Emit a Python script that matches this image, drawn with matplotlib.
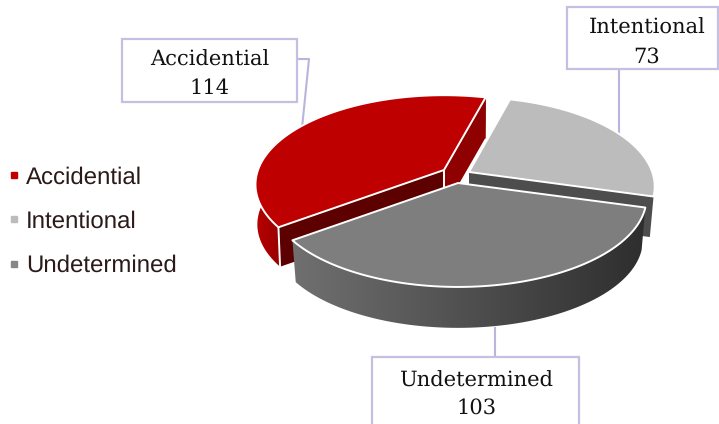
import numpy as np
import matplotlib
matplotlib.use("Agg")
import matplotlib.pyplot as plt
from matplotlib.patches import Polygon, Rectangle
from matplotlib.colors import LinearSegmentedColormap
from matplotlib.lines import Line2D

plt.rcParams["text.hinting"] = "no_hinting"
plt.rcParams["text.hinting_factor"] = 1

categories = ["Accidential", "Intentional", "Undetermined"]
values = [114, 73, 103]
top_colors = ["#bf0000", "#bcbcbc", "#7e7e7e"]
legend_colors = ["#c00000", "#bcbcbc", "#868686"]

# layout of the tilted pie, in pixels
apex = {"Accidential": (444, 170), "Intentional": (469, 172), "Undetermined": (458, 183)}
xscale = {"Accidential": 1.0, "Intentional": 0.985, "Undetermined": 1.0}
drop = {"Accidential": 40.0, "Intentional": 41.0, "Undetermined": 43.0}
shrink = {"Accidential": 0.99, "Intentional": 0.98, "Undetermined": 0.98}
K, KB, PERSP = 186.0, 87.0, 0.163
START = 216.5

W, H = 719, 424
fig = plt.figure(figsize=(W / 100, H / 100), dpi=100)
ax = fig.add_axes([0, 0, 1, 1])
ax.axis("off")


def proj(t_deg, name, lower=False):
    c = apex[name]
    t = np.radians(t_deg)
    den = 1 + PERSP * np.sin(t)
    s = shrink[name] if lower else 1.0
    d = drop[name] if lower else 0.0
    return np.column_stack([c[0] + s * xscale[name] * K * np.cos(t) / den,
                            c[1] - s * KB * np.sin(t) / den + d])


def gradient_fill(pts, c0, c1, z):
    cmap = LinearSegmentedColormap.from_list("g", [c0, c1])
    x0, x1 = pts[:, 0].min(), pts[:, 0].max()
    y0, y1 = pts[:, 1].min(), pts[:, 1].max()
    im = ax.imshow(np.linspace(0, 1, 256)[None, :], cmap=cmap, aspect="auto",
                   extent=[x0, x1, y1, y0], zorder=z)
    patch = Polygon(pts, closed=True, transform=ax.transData, fill=False, edgecolor="none")
    ax.add_patch(patch)
    im.set_clip_path(patch)


frac = np.array(values) / np.sum(values) * 360
edges = START - np.concatenate([[0], np.cumsum(frac)])
ang = {n: (edges[i], edges[i + 1]) for i, n in enumerate(categories)}

WHITE = dict(color="white", lw=1.4, solid_capstyle="round", solid_joinstyle="round")


def cut_face(name, t, color, z):
    c = apex[name]
    p = proj(t, name)[0]
    q = proj(t, name, lower=True)[0]
    ax.add_patch(Polygon([c, p, q, (c[0], c[1] + drop[name])], closed=True, fc=color, ec="none", zorder=z))
    return p, q


def outer_side(name, t0, t1):
    ts = np.linspace(t0, t1, 80)
    return np.vstack([proj(ts, name), proj(ts[::-1], name, lower=True)])


def top_face(name, color, z):
    t0, t1 = ang[name]
    arc = proj(np.linspace(t0, t1, 160), name)
    pts = np.vstack([[apex[name]], arc])
    ax.add_patch(Polygon(pts, closed=True, fc=color, ec="white", lw=1.4, joinstyle="round", zorder=z))


# leader lines and label boxes (behind the pie)
LEAD = "#b9b5dc"
leaders = {"Accidential": ([297, 309, 302], [59, 59, 128]),
           "Intentional": ([619, 619], [70, 134]),
           "Undetermined": ([495, 495], [328, 357])}
boxes = {"Accidential": (122, 39, 175, 63), "Intentional": (567, 7, 151, 62), "Undetermined": (372, 357, 207, 80)}
text_y = {"Accidential": (60, 88), "Intentional": (28, 57), "Undetermined": (381, 408)}
text_x = {"Accidential": 209.5, "Intentional": 647, "Undetermined": 476}

for i, name in enumerate(categories):
    lx, ly = leaders[name]
    ax.plot(lx, ly, color=LEAD, lw=1.5, zorder=1)
    x, y, w, h = boxes[name]
    ax.add_patch(Rectangle((x, y), w, h, fc="white", ec="#c3c0e2", lw=1.6, zorder=2))
    ax.text(text_x[name], text_y[name][0], name, ha="center", va="center", fontsize=15,
            family="DejaVu Serif", color="#111111", zorder=3)
    ax.text(text_x[name], text_y[name][1], str(values[i]), ha="center", va="center", fontsize=15,
            family="DejaVu Serif", color="#111111", zorder=3)

# Accidential
a0, a1 = ang["Accidential"]
p, q = cut_face("Accidential", a1, "#8f0000", 4)
ax.plot([p[0], q[0]], [p[1], q[1]], color="#8f0000", lw=0.6, zorder=4)
p0, q0 = cut_face("Accidential", a0, "#5c0000", 5)
gradient_fill(outer_side("Accidential", 165, a0), "#b80000", "#9a0000", 5)
ax.plot([p0[0], q0[0]], [p0[1], q0[1]], **WHITE, zorder=6)
ax.plot([apex["Accidential"][0]] * 2, [apex["Accidential"][1], apex["Accidential"][1] + 18], **WHITE, zorder=6)
top_face("Accidential", top_colors[0], 7)

# Intentional
b0, b1 = ang["Intentional"]
cut_face("Intentional", b1, "#4d4d4d", 8)
top_face("Intentional", top_colors[1], 9)

# Undetermined
c0, c1 = ang["Undetermined"]
gradient_fill(outer_side("Undetermined", c1, c0), "#707070", "#2e2e2e", 10)
top_face("Undetermined", top_colors[2], 11)

handles = [Line2D([], [], ls="none", marker="s", ms=4.6, mfc=col, mec=col) for col in legend_colors]
leg = ax.legend(handles, categories, loc="center left", bbox_to_anchor=(5.15 / W, 1 - 221.5 / H),
                frameon=False, prop={"family": "Liberation Sans", "size": 17},
                labelspacing=0.93, handletextpad=0.13, handlelength=0.75, borderpad=0, borderaxespad=0)
for t in leg.get_texts():
    t.set_color("#2b1a1a")

ax.set_xlim(0, W)
ax.set_ylim(H, 0)
fig.savefig("out.png", dpi=100, facecolor="white")
